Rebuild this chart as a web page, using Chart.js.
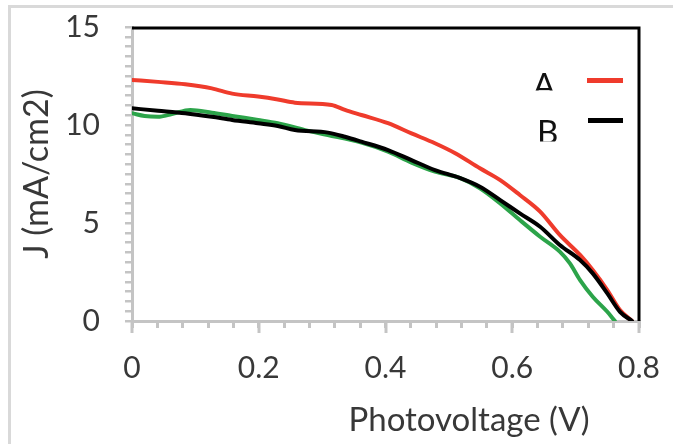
<!DOCTYPE html>
<html><head><meta charset="utf-8">
<script src="https://cdn.jsdelivr.net/npm/chart.js@4.4.0/dist/chart.umd.min.js"></script>
<style>
html,body{margin:0;padding:0;background:#fff;}
#wrap{position:relative;width:673px;height:444px;overflow:hidden;}
#frame{position:absolute;left:8px;top:5px;right:-10px;bottom:-10px;border-left:3px solid #d9d9d9;border-top:3px solid #d9d9d9;}
canvas{position:absolute;left:0;top:0;}
</style></head><body>
<div id="wrap"><div id="frame"></div><canvas id="c" width="673" height="444"></canvas></div>
<script>
// ---- data ----
const seriesLabels = ['A', 'B', ''];
const seriesColors = ['#ef3b2c', '#000000', '#2ca44a'];

const voltageA = [0, 0.041, 0.084, 0.126, 0.158, 0.199, 0.230, 0.257, 0.315, 0.336, 0.362, 0.404, 0.441, 0.478, 0.510, 0.549, 0.581, 0.612, 0.644, 0.675, 0.707, 0.727, 0.750, 0.770, 0.789];
const currentA = [12.3, 12.2, 12.08, 11.87, 11.6, 11.45, 11.3, 11.14, 11.02, 10.77, 10.51, 10.09, 9.57, 9.07, 8.56, 7.79, 7.19, 6.43, 5.58, 4.39, 3.37, 2.6, 1.58, 0.56, 0];

const voltageB = [0, 0.041, 0.084, 0.126, 0.158, 0.199, 0.230, 0.257, 0.309, 0.336, 0.362, 0.404, 0.441, 0.478, 0.517, 0.549, 0.581, 0.612, 0.644, 0.675, 0.707, 0.727, 0.750, 0.770, 0.789];
const currentB = [10.85, 10.73, 10.6, 10.42, 10.26, 10.09, 9.95, 9.74, 9.61, 9.4, 9.15, 8.72, 8.21, 7.7, 7.3, 6.85, 6.17, 5.49, 4.81, 3.88, 3.11, 2.43, 1.41, 0.47, 0];

const voltageC = [0, 0.02, 0.041, 0.063, 0.092, 0.126, 0.158, 0.199, 0.230, 0.273, 0.309, 0.362, 0.404, 0.441, 0.478, 0.517, 0.549, 0.581, 0.612, 0.644, 0.675, 0.691, 0.707, 0.727, 0.750, 0.762];
const currentC = [10.6, 10.46, 10.42, 10.56, 10.77, 10.63, 10.46, 10.26, 10.09, 9.74, 9.49, 9.1, 8.64, 8.08, 7.62, 7.3, 6.77, 6.0, 5.15, 4.3, 3.54, 2.94, 2.09, 1.24, 0.47, 0];

const xTickLabels = ['0', '0.2', '0.4', '0.6', '0.8'];
const yTickLabels = ['0', '5', '10', '15'];
const xTitle = 'Photovoltage (V)';
const yTitle = 'J (mA/cm2)';

// ---- chart ----
const FONT = 'Lato';
const TEXT = '#383838';
const AXIS = '#c4c4c4';

function pts(xs, ys) { return xs.map((v, i) => ({x: v, y: ys[i]})); }

const decor = {
  id: 'decor',
  afterDatasetsDraw(chart) {
    const {ctx, chartArea: a, scales: {x}} = chart;
    ctx.save();
    // longer major ticks on x axis
    ctx.strokeStyle = AXIS; ctx.lineWidth = 3;
    xTickLabels.forEach(t => {
      const px = Math.round(x.getPixelForValue(parseFloat(t)));
      ctx.beginPath(); ctx.moveTo(px, a.bottom); ctx.lineTo(px, a.bottom + 12); ctx.stroke();
    });
    // black top / right frame
    ctx.strokeStyle = '#000'; ctx.lineWidth = 3;
    ctx.beginPath();
    ctx.moveTo(a.left, a.top + 1); ctx.lineTo(a.right, a.top + 1); ctx.lineTo(a.right, a.bottom);
    ctx.stroke();
    // legend (text then line, clipped text as in the original)
    const items = [
      {i: 0, tx: 533, base: 97, clipY: 90.5, ly: 80.5, lx0: 587, lx1: 623},
      {i: 1, tx: 537, base: 144, clipY: 141.5, ly: 120.5, lx0: 588, lx1: 623}
    ];
    ctx.font = '33px ' + FONT;
    ctx.textBaseline = 'alphabetic';
    ctx.textAlign = 'left';
    items.forEach(it => {
      const ds = chart.data.datasets[it.i];
      ctx.save();
      ctx.beginPath(); ctx.rect(it.tx - 5, 0, 50, it.clipY); ctx.clip();
      ctx.fillStyle = '#111';
      ctx.fillText(ds.label, it.tx, it.base);
      ctx.restore();
      ctx.strokeStyle = ds.borderColor; ctx.lineWidth = 5; ctx.lineCap = 'butt';
      ctx.beginPath(); ctx.moveTo(it.lx0, it.ly); ctx.lineTo(it.lx1, it.ly); ctx.stroke();
    });
    ctx.restore();
  }
};

new Chart(document.getElementById('c'), {
  type: 'line',
  data: {
    datasets: [
      {label: seriesLabels[0], data: pts(voltageA, currentA), borderColor: seriesColors[0], order: 2},
      {label: seriesLabels[1], data: pts(voltageB, currentB), borderColor: seriesColors[1], order: 0},
      {label: seriesLabels[2], data: pts(voltageC, currentC), borderColor: seriesColors[2], order: 1}
    ].map(d => Object.assign(d, {borderWidth: 4, pointRadius: 0, fill: false, cubicInterpolationMode: 'monotone', borderCapStyle: 'round', borderJoinStyle: 'round'}))
  },
  options: {
    responsive: false,
    animation: false,
    devicePixelRatio: 1,
    layout: {padding: {left: 10, top: 27, right: 34, bottom: 0}, autoPadding: false},
    plugins: {legend: {display: false}, tooltip: {enabled: false}},
    scales: {
      x: {
        type: 'linear', min: 0, max: 0.8,
        afterFit(s) { s.height = 123; s.paddingLeft = 0; s.paddingRight = 0; },
        border: {display: true, color: AXIS, width: 3},
        grid: {drawOnChartArea: false, drawTicks: true, tickLength: 7, color: AXIS, lineWidth: 3},
        ticks: {
          stepSize: 0.04, autoSkip: false, maxRotation: 0, padding: 22,
          color: TEXT, font: {family: FONT, size: 30},
          callback: v => { const k = v * 5; return Math.abs(k - Math.round(k)) < 1e-6 ? xTickLabels[Math.round(k)] : ''; }
        },
        title: {display: true, text: xTitle + '\u2003\u2003', align: 'end', color: TEXT, font: {family: FONT, size: 33}, padding: {top: 0, bottom: 4}}
      },
      y: {
        type: 'linear', min: 0, max: 15,
        afterFit(s) { s.width = 122; s.paddingTop = 0; s.paddingBottom = 0; },
        border: {display: true, color: AXIS, width: 3},
        grid: {drawOnChartArea: false, drawTicks: true, tickLength: 7, color: AXIS, lineWidth: 2.5},
        ticks: {
          stepSize: 0.5, autoSkip: false, padding: 25,
          color: TEXT, font: {family: FONT, size: 30},
          callback: v => { const k = v / 5; return Math.abs(k - Math.round(k)) < 1e-6 ? yTickLabels[Math.round(k)] : ''; }
        },
        title: {display: true, text: yTitle, color: TEXT, font: {family: FONT, size: 34}, padding: {top: 7, bottom: 0}}
      }
    }
  },
  plugins: [decor]
});
</script>
</body></html>
